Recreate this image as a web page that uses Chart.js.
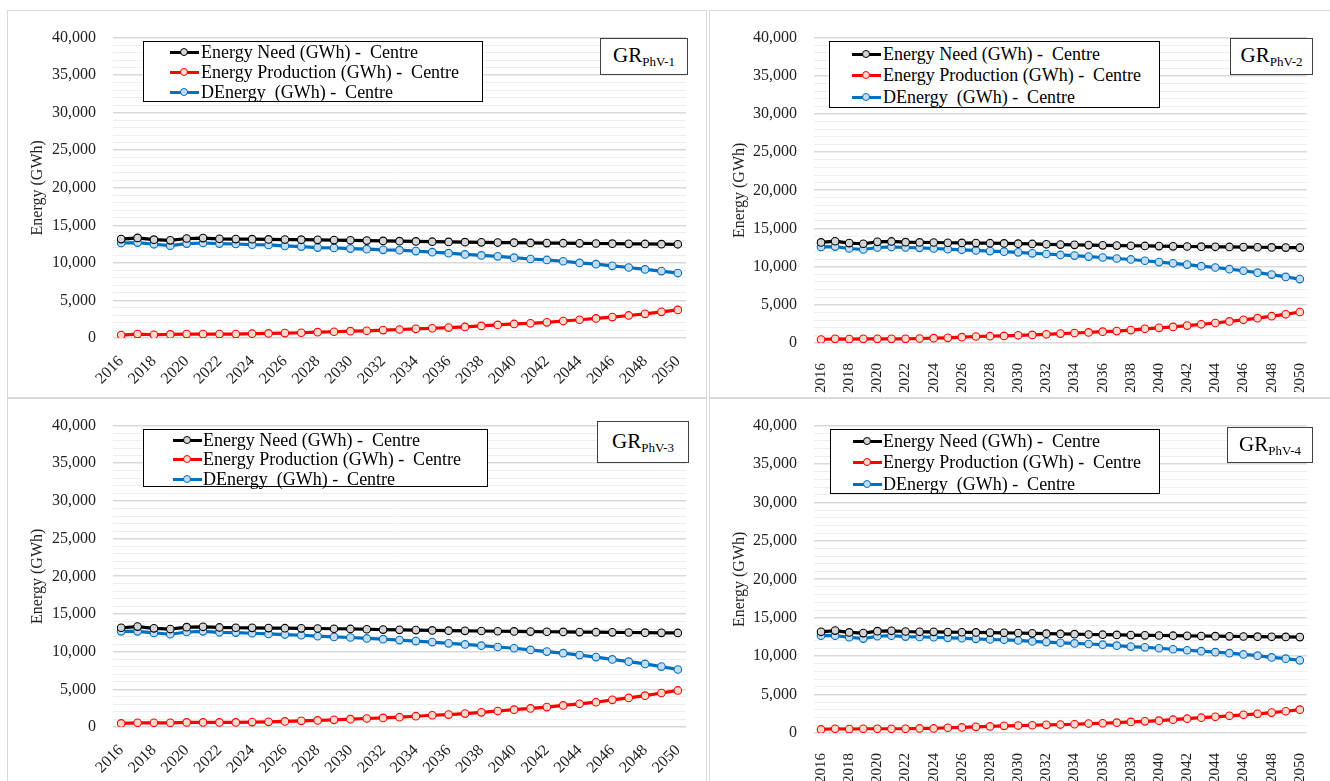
<!DOCTYPE html>
<html lang="en">
<head>
<meta charset="UTF-8">
<title>Energy Need / Production / DEnergy - Centre</title>
<script src="https://cdn.jsdelivr.net/npm/chart.js@4.4.0/dist/chart.umd.min.js"></script>
<style>
  body { margin: 0; background: #fff; width: 1330px; height: 781px; overflow: hidden; font-family: "Liberation Serif", "DejaVu Serif", serif; }
  .panel { position: absolute; box-sizing: border-box; border: 1px solid #d9d9d9; background: #fff; overflow: hidden; }
  .panel canvas { position: absolute; left: 0; top: 0; }
  .legend { position: absolute; box-sizing: border-box; border: 1px solid #000; background: #fff; font-size: 18px; color: #000; }
  .legend .item { position: absolute; left: 0; height: 20px; line-height: 20px; white-space: pre; }
  .legend .mark { position: absolute; top: 9px; height: 3px; width: 29px; }
  .legend .mark i { position: absolute; left: 10px; top: -3px; width: 8px; height: 8px; border-radius: 50%; border: 1px solid; box-sizing: border-box; }
  .legend .txt { position: absolute; top: 0; }
  .gr { position: absolute; box-sizing: border-box; border: 1px solid #404040; background: #fff; font-size: 21px; text-align: center; color: #000; }
  .gr sub { font-size: 13px; vertical-align: -4px; }
</style>
</head>
<body>
<div id="root"></div>
<script>
const serif = "'Liberation Serif', 'DejaVu Serif', serif";

// years on the x axis
const years = [2016, 2017, 2018, 2019, 2020, 2021, 2022, 2023, 2024, 2025, 2026, 2027,
  2028, 2029, 2030, 2031, 2032, 2033, 2034, 2035, 2036, 2037, 2038, 2039, 2040,
  2041, 2042, 2043, 2044, 2045, 2046, 2047, 2048, 2049, 2050];

const seriesNames = ['Energy Need (GWh) -  Centre', 'Energy Production (GWh) -  Centre', 'DEnergy  (GWh) -  Centre'];
const lineColors = ['#000000', '#ff0000', '#0070c0'];
const markerFill = ['#d4d4d4', '#fbd9cc', '#c3dcf2'];

// Energy need (same in every scenario)
const need = [13170, 13330, 13090, 13000, 13250, 13300, 13210, 13170, 13160, 13130,
  13110, 13090, 13070, 13040, 13010, 12970, 12930, 12890, 12860, 12820,
  12790, 12760, 12740, 12710, 12690, 12660, 12640, 12620, 12600, 12580,
  12560, 12540, 12520, 12500, 12480];

// GR PhV-1
const prod1 = [390, 520, 430, 480, 520, 520, 520, 520, 570, 610,
  650, 700, 780, 830, 910, 960, 1050, 1130, 1220, 1300,
  1390, 1480, 1610, 1740, 1870, 1960, 2090, 2260, 2430, 2610,
  2780, 3000, 3220, 3480, 3740];
const d1 = [12650, 12700, 12480, 12300, 12570, 12650, 12570, 12520, 12430, 12390,
  12260, 12170, 12040, 12000, 11910, 11830, 11740, 11700, 11570, 11430,
  11300, 11130, 11000, 10870, 10700, 10520, 10390, 10220, 10000, 9830,
  9610, 9390, 9130, 8910, 8650];

// GR PhV-2
const prod2 = [460, 550, 510, 550, 550, 550, 550, 590, 630, 680,
  760, 850, 890, 930, 1010, 1060, 1140, 1230, 1310, 1390,
  1480, 1560, 1690, 1860, 1990, 2110, 2280, 2450, 2620, 2830,
  3040, 3250, 3510, 3760, 4060];
const d2 = [12590, 12630, 12380, 12250, 12510, 12590, 12510, 12460, 12380, 12290,
  12210, 12130, 12040, 11960, 11870, 11740, 11660, 11530, 11450, 11320,
  11200, 11070, 10940, 10770, 10600, 10440, 10270, 10060, 9890, 9670,
  9460, 9210, 8960, 8660, 8370];

// GR PhV-3
const prod3 = [480, 560, 560, 560, 610, 610, 610, 610, 650, 690,
  740, 820, 870, 950, 1040, 1130, 1210, 1300, 1430, 1560,
  1650, 1780, 1950, 2120, 2300, 2470, 2640, 2860, 3080, 3290,
  3600, 3860, 4160, 4510, 4850];
const d3 = [12700, 12700, 12480, 12310, 12610, 12700, 12570, 12530, 12440, 12350,
  12270, 12180, 12050, 11960, 11880, 11750, 11660, 11530, 11400, 11270,
  11100, 10960, 10790, 10620, 10450, 10230, 10010, 9800, 9540, 9280,
  8970, 8670, 8370, 8020, 7630];

// GR PhV-4
const prod4 = [460, 550, 510, 550, 550, 550, 550, 590, 590, 680,
  720, 800, 850, 930, 970, 1010, 1060, 1100, 1140, 1230,
  1270, 1350, 1440, 1520, 1610, 1730, 1860, 1990, 2110, 2240,
  2370, 2490, 2660, 2830, 3040];
const d4 = [12670, 12670, 12460, 12290, 12590, 12670, 12550, 12500, 12460, 12380,
  12340, 12250, 12170, 12130, 12040, 11920, 11830, 11740, 11660, 11580,
  11490, 11360, 11240, 11150, 11030, 10900, 10770, 10650, 10520, 10390,
  10220, 10060, 9840, 9670, 9460];

const yTicks = { min: 0, max: 40000, major: 5000, minor: 1000 };

// layout of the four panels
const panels = [
  { tag: 'PhV-1', prod: prod1, diff: d1, box: [7, 10, 700, 388],
    area: { left: 105, top: 16, right: 20, xh: 59 }, rot: 45, xfont: 16, xpad: 6,
    legend: { left: 135, top: 30, w: 340, h: 61, rows: [0, 20, 40], mark: 26, text: 57 },
    gr: { left: 592, top: 27, w: 88, h: 37 } },
  { tag: 'PhV-2', prod: prod2, diff: d2, box: [709, 10, 622, 388],
    area: { left: 104, top: 17, right: 13, xh: 54 }, rot: 90, xfont: 15, xpad: 12,
    legend: { left: 119, top: 30, w: 331, h: 67, rows: [2, 23, 45], mark: 22, text: 53 },
    gr: { left: 520, top: 27, w: 83, h: 37 } },
  { tag: 'PhV-3', prod: prod3, diff: d3, box: [7, 398, 700, 385],
    area: { left: 105, top: 18, right: 20, xh: 55 }, rot: 45, xfont: 16, xpad: 6,
    legend: { left: 135, top: 30, w: 345, h: 58, rows: [0, 19, 39], mark: 29, text: 59 },
    gr: { left: 589, top: 22, w: 92, h: 42 } },
  { tag: 'PhV-4', prod: prod4, diff: d4, box: [709, 398, 622, 385],
    area: { left: 104, top: 19, right: 13, xh: 49 }, rot: 90, xfont: 15, xpad: 12,
    legend: { left: 120, top: 30, w: 330, h: 65, rows: [1, 22, 44], mark: 22, text: 52 },
    gr: { left: 517, top: 28, w: 86, h: 36 } }
];

const root = document.getElementById('root');

panels.forEach(function (p) {
  const div = document.createElement('div');
  div.className = 'panel';
  div.style.left = p.box[0] + 'px';
  div.style.top = p.box[1] + 'px';
  div.style.width = p.box[2] + 'px';
  div.style.height = p.box[3] + 'px';
  root.appendChild(div);

  const canvas = document.createElement('canvas');
  canvas.width = p.box[2] - 2;
  canvas.height = p.box[3] - 2;
  div.appendChild(canvas);

  const series = [need, p.prod, p.diff];
  const datasets = series.map(function (vals, i) {
    return {
      label: seriesNames[i],
      data: vals,
      borderColor: lineColors[i],
      backgroundColor: markerFill[i],
      borderWidth: 3.2,
      pointRadius: 3.8,
      pointBorderWidth: 1.1,
      pointBorderColor: lineColors[i],
      pointBackgroundColor: markerFill[i],
      tension: 0
    };
  });

  new Chart(canvas.getContext('2d'), {
    type: 'line',
    data: { labels: years.map(String), datasets: datasets },
    options: {
      responsive: false,
      animation: false,
      layout: { padding: { left: 0, top: p.area.top, right: p.area.right, bottom: 0 } },
      plugins: { legend: { display: false }, tooltip: { enabled: false } },
      scales: {
        x: {
          offset: true,
          grid: { display: false },
          border: { display: false },
          ticks: {
            autoSkip: false,
            minRotation: p.rot,
            maxRotation: p.rot,
            padding: p.xpad,
            color: '#222',
            font: { family: serif, size: p.xfont },
            callback: function (v, i) { return i % 2 === 0 ? this.getLabelForValue(v) : ''; }
          },
          afterFit: function (s) { s.height = p.area.xh; }
        },
        y: {
          min: yTicks.min,
          max: yTicks.max,
          border: { display: false },
          grid: {
            drawTicks: false,
            color: function (c) { return c.tick.value % yTicks.major === 0 ? '#d9d9d9' : '#eeeeee'; },
            lineWidth: function (c) { return c.tick.value % yTicks.major === 0 ? 1.6 : 1; }
          },
          ticks: {
            stepSize: yTicks.minor,
            autoSkip: false,
            padding: 17,
            color: '#222',
            font: { family: serif, size: 16 },
            callback: function (v) { return v % yTicks.major === 0 ? v.toLocaleString('en-US') : ''; }
          },
          title: {
            display: true,
            text: 'Energy (GWh)',
            color: '#222',
            font: { family: serif, size: 16 },
            padding: { top: 20, bottom: 0 }
          },
          afterFit: function (s) { s.width = p.area.left; }
        }
      }
    }
  });

  // legend box
  const lg = document.createElement('div');
  lg.className = 'legend';
  lg.style.left = p.legend.left + 'px';
  lg.style.top = p.legend.top + 'px';
  lg.style.width = p.legend.w + 'px';
  lg.style.height = p.legend.h + 'px';
  seriesNames.forEach(function (name, i) {
    const item = document.createElement('div');
    item.className = 'item';
    item.style.top = p.legend.rows[i] + 'px';
    const mark = document.createElement('span');
    mark.className = 'mark';
    mark.style.left = p.legend.mark + 'px';
    mark.style.background = lineColors[i];
    const dot = document.createElement('i');
    dot.style.background = markerFill[i];
    dot.style.borderColor = lineColors[i];
    mark.appendChild(dot);
    const txt = document.createElement('span');
    txt.className = 'txt';
    txt.style.left = p.legend.text + 'px';
    txt.textContent = name;
    item.appendChild(mark);
    item.appendChild(txt);
    lg.appendChild(item);
  });
  div.appendChild(lg);

  // scenario tag
  const gr = document.createElement('div');
  gr.className = 'gr';
  gr.style.left = p.gr.left + 'px';
  gr.style.top = p.gr.top + 'px';
  gr.style.width = p.gr.w + 'px';
  gr.style.height = p.gr.h + 'px';
  gr.style.lineHeight = (p.gr.h - 4) + 'px';
  gr.innerHTML = 'GR<sub>' + p.tag + '</sub>';
  div.appendChild(gr);
});
</script>
</body>
</html>
